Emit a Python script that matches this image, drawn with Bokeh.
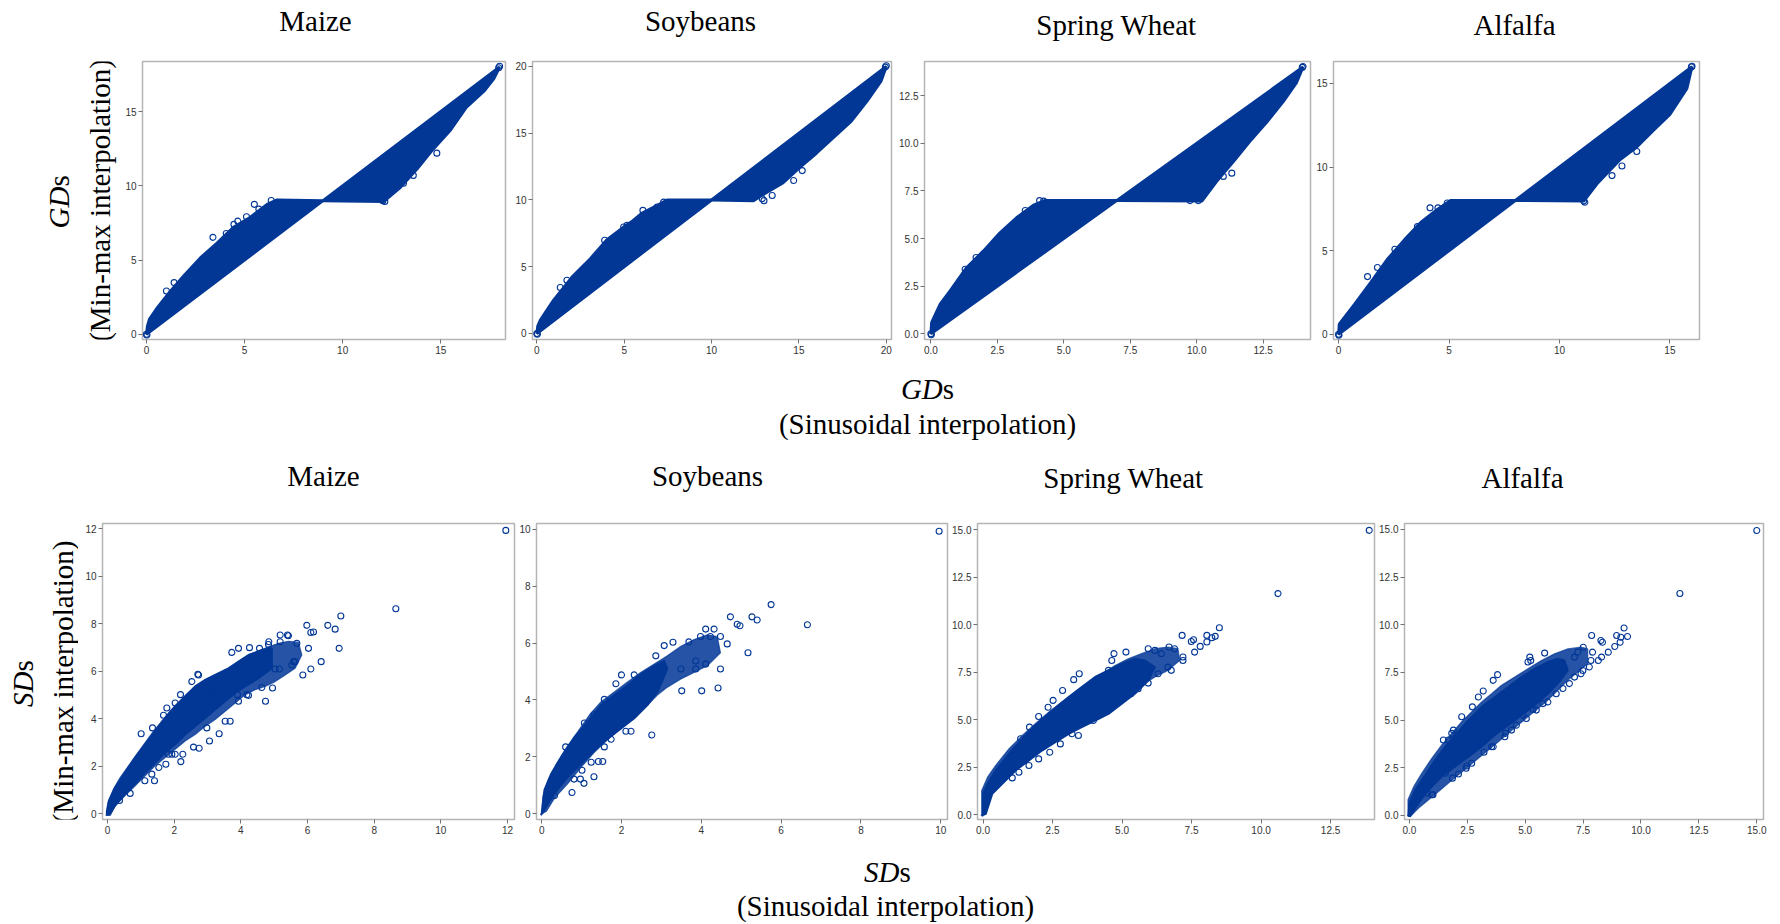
import math
from bokeh.plotting import figure
from bokeh.layouts import column, row
from bokeh.models import Range1d, FixedTicker, PrintfTickFormatter
from bokeh.embed import file_html
from bokeh.resources import INLINE
from bokeh.core.properties import value

BLUE = "#023796"
SERIF = "Liberation Serif"

crops = ["Maize", "Soybeans", "Spring Wheat", "Alfalfa"]

# ---------------- GDs (top row): dense bands (edge traces) + sparse edge points ----------------
gd_maize_upper_x = [0, 0.05, 0.15, 0.56, 1.07, 1.92, 2.76, 3.6, 4.46, 5.3, 6.15, 6.66, 9.0]
gd_maize_upper_y = [0, 0.55, 1.0, 1.79, 2.66, 3.96, 5.16, 6.14, 7.23, 7.88, 8.75, 9.05, 9.0]
gd_maize_lower_x = [9.0, 12.1, 12.9, 13.8, 14.6, 15.5, 16.3, 17.2, 17.7, 18.0]
gd_maize_lower_y = [9.0, 8.95, 9.84, 11.15, 12.45, 13.76, 15.28, 16.37, 17.2, 18.0]
gd_maize_pts_x = [0, 0.03, 1.02, 1.41, 3.39, 4.07, 4.46, 4.66, 5.1, 5.5, 5.73, 6.36, 12.05, 12.15, 13.1, 13.6, 14.8, 17.95, 18.0]
gd_maize_pts_y = [0, -0.05, 2.92, 3.48, 6.53, 6.79, 7.4, 7.62, 7.92, 8.75, 8.43, 9.01, 9.0, 8.95, 10.17, 10.7, 12.2, 17.95, 18.05]

gd_soy_upper_x = [0, 0.05, 0.2, 0.96, 2.0, 3.06, 4.0, 5.0, 5.5, 6.0, 6.9, 7.45, 10.0]
gd_soy_upper_y = [0, 0.55, 1.0, 2.5, 4.2, 5.6, 7.0, 8.0, 8.45, 9.0, 9.6, 10.0, 10.0]
gd_soy_lower_x = [10.0, 12.4, 13.2, 14.1, 15.1, 16.0, 17.0, 18.0, 18.9, 19.7, 20.0]
gd_soy_lower_y = [10.0, 9.95, 10.6, 11.3, 12.5, 13.5, 14.7, 15.9, 17.4, 18.9, 20.0]
gd_soy_pts_x = [0, 0.03, 1.34, 1.72, 3.88, 4.97, 5.16, 6.07, 6.4, 6.88, 7.26, 12.9, 13.0, 13.47, 14.7, 15.19, 19.95, 20.0]
gd_soy_pts_y = [0, -0.05, 3.44, 3.99, 6.98, 7.97, 8.1, 9.22, 8.97, 9.47, 9.84, 10.1, 9.95, 10.34, 11.46, 12.2, 19.95, 20.05]

gd_sw_upper_x = [0, 0.03, 0.35, 0.73, 1.35, 1.98, 2.6, 3.23, 3.86, 4.3, 7.0]
gd_sw_upper_y = [0, 0.6, 1.56, 2.26, 3.48, 4.35, 5.3, 6.1, 6.75, 7.0, 7.0]
gd_sw_lower_x = [7.0, 10.2, 10.75, 11.38, 12.0, 12.63, 13.26, 13.76, 14.0]
gd_sw_lower_y = [7.0, 6.97, 8.0, 9.04, 10.1, 11.1, 12.2, 13.2, 14.0]
gd_sw_pts_x = [0, 0.02, 1.29, 1.7, 2.58, 2.88, 3.55, 4.09, 4.24, 9.75, 10.06, 10.38, 11.0, 11.32, 13.97, 14.0]
gd_sw_pts_y = [0, -0.05, 3.39, 4.0, 5.04, 5.39, 6.47, 6.99, 6.96, 6.99, 6.99, 7.57, 8.26, 8.43, 13.98, 14.03]

gd_alf_upper_x = [0, 0.03, 0.71, 1.46, 2.2, 2.97, 3.72, 4.47, 5.07, 8.0]
gd_alf_upper_y = [0, 0.6, 1.77, 3.1, 4.47, 5.63, 6.69, 7.46, 8.0, 8.0]
gd_alf_lower_x = [8.0, 11.1, 11.7, 12.75, 13.5, 14.26, 15.0, 15.77, 16.0]
gd_alf_lower_y = [8.0, 7.97, 9.0, 10.45, 11.2, 12.2, 13.15, 14.7, 16.0]
gd_alf_pts_x = [0, 0.02, 1.31, 1.76, 2.55, 3.57, 4.14, 4.5, 4.92, 11.1, 11.15, 12.38, 12.83, 13.5, 15.97, 16.0]
gd_alf_pts_y = [0, -0.05, 3.45, 3.99, 5.09, 6.44, 7.56, 7.56, 7.85, 7.98, 7.9, 9.49, 10.06, 10.93, 15.98, 16.03]

# ---------------- SDs (bottom row): outer (speckled) envelope, solid core, scattered points ----------------
sd_maize_env_x = [0, 0.03, 0.18, 0.38, 0.63, 0.88, 1.13, 1.38, 1.63, 1.88, 2.13, 2.43, 2.73, 3.03, 3.33, 3.63, 3.93, 4.23,
                  4.53, 4.83, 5.13, 5.43, 5.73, 5.83, 5.63, 5.33, 5.03, 4.73, 4.43, 4.13, 3.83, 3.53, 3.23, 2.93, 2.63,
                  2.33, 2.03, 1.73, 1.43, 1.13, 0.83, 0.53, 0.23, 0.08, -0.05]
sd_maize_env_y = [0, 0.56, 1.04, 1.53, 2.02, 2.51, 3.0, 3.48, 3.9, 4.32, 4.67, 5.09, 5.44, 5.71, 5.92, 6.13, 6.41, 6.69,
                  6.86, 7.04, 7.18, 7.27, 7.22, 6.69, 6.13, 5.85, 5.57, 5.37, 5.23, 5.02, 4.67, 4.32, 3.97, 3.69, 3.34,
                  3.07, 2.72, 2.37, 2.02, 1.6, 1.18, 0.77, 0.35, -0.07, -0.07]
sd_maize_core_x = [-0.02, 0.03, 0.23, 0.53, 0.83, 1.13, 1.43, 1.73, 2.03, 2.33, 2.63, 2.93, 3.23, 3.63, 3.93, 4.23, 4.63, 4.93,
                   4.93, 4.53, 4.13, 3.83, 3.53, 3.23, 2.93, 2.63, 2.33, 2.03, 1.73, 1.43, 1.13, 0.83, 0.53, 0.23, 0.08, -0.02]
sd_maize_core_y = [0.1, 0.49, 1.11, 1.74, 2.37, 2.93, 3.48, 4.04, 4.53, 4.95, 5.37, 5.64, 5.85, 6.13, 6.41, 6.69, 6.9, 6.97,
                   6.13, 5.71, 5.37, 5.09, 4.74, 4.39, 4.04, 3.69, 3.34, 2.93, 2.58, 2.16, 1.74, 1.25, 0.84, 0.35, 0.0, -0.04]
sd_maize_pts_x = [11.95, 8.65, 7.0, 5.98, 6.61, 6.83, 6.1, 6.18, 6.95, 6.03, 6.41, 6.1, 5.86, 5.18, 5.4, 5.68, 5.58, 5.16,
                  4.95, 4.74, 4.84, 4.26, 3.93, 3.73, 4.38, 4.18, 3.9, 3.68, 3.53, 3.35, 3.06, 2.73, 2.53, 2.19, 2.98, 2.58,
                  2.75, 2.26, 2.2, 1.54, 1.41, 1.12, 1.33, 0.68, 0.36, 1.01, 1.35, 1.68, 2.03, 1.78, 1.83, 1.93, 5.43, 5.63,
                  5.53, 5.03, 4.63, 4.23, 3.93, 2.03, 1.75, 3.13, 3.29, 4.56, 4.83, 5.18, 2.71]
sd_maize_pts_y = [11.94, 8.64, 8.33, 7.94, 7.94, 7.78, 7.64, 7.66, 6.97, 6.97, 6.41, 6.1, 5.85, 7.53, 7.53, 7.18, 6.41, 6.1,
                  5.3, 4.74, 7.25, 7.0, 6.97, 6.8, 5.85, 5.02, 5.02, 3.9, 3.9, 3.37, 3.07, 5.85, 5.57, 5.02, 3.62, 2.81,
                  2.76, 2.51, 2.2, 1.95, 1.39, 1.39, 1.67, 0.86, 0.56, 3.37, 3.62, 4.15, 4.67, 4.46, 2.51, 2.51, 7.5, 6.41,
                  6.27, 6.1, 5.32, 4.99, 4.74, 2.51, 2.09, 5.16, 4.95, 6.97, 7.13, 7.25, 5.88]

sd_soy_env_x = [0, 0.03, 0.16, 0.37, 0.62, 0.91, 1.2, 1.49, 1.82, 2.15, 2.49, 2.82, 3.15, 3.49, 3.82, 4.15, 4.4, 4.48, 4.15,
                3.82, 3.49, 3.15, 2.9, 2.65, 2.32, 1.99, 1.66, 1.32, 0.99, 0.66, 0.32, 0.12, -0.02]
sd_soy_env_y = [0, 0.61, 1.18, 1.76, 2.33, 2.9, 3.48, 3.94, 4.28, 4.63, 4.97, 5.26, 5.55, 5.89, 6.12, 6.29, 6.23, 5.66, 5.2,
                4.97, 4.74, 4.45, 4.17, 3.82, 3.42, 3.02, 2.62, 2.16, 1.64, 1.07, 0.55, 0.09, -0.02]
sd_soy_core_x = [0, 0.07, 0.24, 0.49, 0.82, 1.16, 1.49, 1.82, 2.15, 2.49, 2.82, 3.07, 3.15, 2.9, 2.65, 2.32, 1.9, 1.49, 1.07,
                 0.66, 0.32, 0.07, -0.02]
sd_soy_core_y = [0, 0.84, 1.41, 1.99, 2.68, 3.25, 3.82, 4.17, 4.51, 4.91, 5.2, 5.37, 5.09, 4.28, 3.82, 3.36, 2.9, 2.45, 1.87,
                 1.3, 0.72, 0.15, -0.05]
sd_soy_pts_x = [9.96, 6.66, 5.75, 5.4, 5.27, 4.73, 4.9, 4.97, 5.17, 4.65, 4.48, 4.32, 4.11, 4.48, 4.42, 4.01, 4.11, 3.86, 3.69,
                3.98, 4.23, 3.51, 3.29, 3.07, 2.76, 2.86, 2.0, 2.32, 1.86, 1.57, 1.31, 1.07, 0.87, 0.6, 2.11, 2.24, 1.74,
                1.57, 1.53, 1.42, 1.24, 1.01, 0.81, 0.97, 1.06, 1.31, 0.76, 0.32, 3.49, 3.86]
sd_soy_pts_y = [9.93, 6.64, 7.35, 6.81, 6.92, 6.92, 6.66, 6.61, 5.66, 5.97, 6.23, 6.49, 6.49, 5.09, 4.42, 4.32, 5.26, 5.09, 6.04,
                6.23, 6.23, 4.32, 6.03, 5.91, 2.77, 5.55, 4.88, 4.88, 4.57, 4.02, 3.48, 3.19, 2.62, 2.35, 2.9, 2.9, 2.62,
                2.35, 1.84, 1.84, 1.81, 1.53, 1.22, 1.22, 1.07, 1.3, 0.75, 0.64, 5.09, 5.37]

sd_sw_env_x = [-0.05, -0.05, 0.16, 0.45, 0.93, 1.41, 1.88, 2.36, 2.84, 3.32, 3.79, 4.27, 4.75, 5.22, 5.7, 6.18, 6.65, 7.01,
               7.07, 6.65, 6.18, 5.7, 5.22, 4.75, 4.27, 3.79, 3.32, 2.84, 2.36, 1.88, 1.41, 0.93, 0.57, 0.27, 0.1, -0.08]
sd_sw_env_y = [0, 1.26, 1.97, 2.58, 3.46, 4.16, 4.78, 5.39, 5.92, 6.45, 6.97, 7.41, 7.85, 8.2, 8.47, 8.73, 8.82, 8.73,
               8.11, 7.59, 7.24, 6.8, 6.27, 5.83, 5.39, 5.04, 4.69, 4.25, 3.81, 3.37, 2.85, 2.23, 1.79, 1.09, 0.04, -0.05]
sd_sw_core_x = [0, 0, 0.16, 0.45, 0.93, 1.41, 1.88, 2.48, 3.08, 3.55, 4.03, 4.51, 5.0, 5.46, 5.82, 6.18, 5.94, 5.46, 4.99, 4.51,
                4.03, 3.55, 3.08, 2.6, 2.12, 1.65, 1.17, 0.69, 0.33, 0.1, -0.05]
sd_sw_core_y = [-0.05, 1.09, 1.62, 2.32, 3.2, 3.99, 4.69, 5.48, 6.18, 6.71, 7.24, 7.59, 7.94, 8.2, 8.11, 7.76, 7.06, 6.36, 5.83,
                5.3, 4.95, 4.6, 4.25, 3.81, 3.37, 2.85, 2.32, 1.62, 1.09, 0.04, -0.05]
sd_sw_pts_x = [13.89, 10.61, 8.5, 7.16, 7.49, 7.57, 8.05, 8.35, 8.23, 8.05, 7.81, 7.61, 7.19, 7.19, 6.89, 6.69, 6.77, 6.65,
               6.42, 6.18, 5.94, 6.3, 5.94, 5.58, 5.32, 5.14, 4.71, 4.63, 4.51, 3.46, 3.26, 2.86, 2.52, 2.34, 2.0, 1.67,
               1.35, 2.78, 2.4, 2.0, 1.65, 1.05, 1.29, 3.97, 3.43, 3.2, 4.72, 4.99]
sd_sw_pts_y = [14.96, 11.63, 9.83, 9.43, 9.11, 9.2, 9.43, 9.38, 9.31, 9.08, 8.85, 8.55, 8.29, 8.11, 8.73, 8.82, 7.59, 7.76,
               8.47, 8.64, 8.73, 7.41, 6.92, 6.62, 6.36, 8.55, 8.47, 8.11, 7.59, 7.41, 7.1, 6.53, 6.01, 5.65, 5.16, 4.6,
               3.99, 3.72, 3.28, 2.93, 2.58, 1.93, 2.23, 4.95, 4.16, 4.25, 5.92, 6.18]

sd_alf_env_x = [-0.06, -0.06, 0.19, 0.54, 0.97, 1.4, 1.83, 2.26, 2.69, 3.12, 3.55, 3.98, 4.55, 5.12, 5.7, 6.27, 6.84, 7.41,
                7.7, 7.7, 7.27, 6.84, 6.41, 5.98, 5.55, 5.12, 4.69, 4.27, 3.84, 3.41, 2.98, 2.55, 2.12, 1.69, 1.26, 0.83,
                0.4, 0.11]
sd_alf_env_y = [-0.05, 0.82, 1.51, 2.21, 2.99, 3.69, 4.3, 4.91, 5.43, 5.95, 6.38, 6.82, 7.25, 7.69, 8.12, 8.47, 8.73, 8.82,
                8.73, 7.95, 7.52, 7.08, 6.56, 6.04, 5.6, 5.17, 4.73, 4.3, 3.86, 3.43, 2.99, 2.56, 2.12, 1.69, 1.25, 0.82,
                0.38, 0.03]
sd_alf_core_x = [-0.03, 0, 0.26, 0.69, 1.12, 1.55, 1.98, 2.55, 3.12, 3.69, 4.27, 4.84, 5.41, 5.98, 6.41, 6.7, 6.84,
                 6.41, 5.98, 5.41, 4.84, 4.27, 3.69, 3.12, 2.55, 1.98, 1.4, 0.97, 0.54, 0.26, 0.04, -0.05]
sd_alf_core_y = [0.1, 0.64, 1.34, 2.12, 2.91, 3.6, 4.21, 4.99, 5.69, 6.21, 6.73, 7.25, 7.69, 8.04, 8.21, 8.12, 7.6,
                 6.91, 6.38, 5.78, 5.25, 4.73, 4.21, 3.6, 3.08, 2.56, 2.04, 1.51, 0.9, 0.38, -0.05, -0.03]
sd_alf_pts_x = [15.0, 11.68, 9.27, 7.87, 8.95, 9.13, 9.42, 8.27, 8.34, 9.1, 8.87, 8.59, 8.3, 8.16, 7.91, 7.84, 7.77, 7.51,
                7.27, 7.13, 7.41, 6.91, 6.63, 6.34, 5.84, 5.2, 5.12, 3.81, 3.62, 3.19, 2.98, 2.72, 2.26, 1.83, 1.69, 3.22,
                3.62, 2.69, 2.45, 2.12, 1.86, 1.02, 0.76, 4.15, 4.41, 4.91, 5.34, 5.77, 5.24, 7.49, 7.13, 5.98, 5.48,
                5.05, 4.62, 4.12, 3.55, 2.48, 1.55, 0.97, 1.47, 1.9]
sd_alf_pts_y = [14.94, 11.64, 9.83, 9.43, 9.43, 9.34, 9.38, 9.17, 9.08, 9.08, 8.86, 8.56, 8.3, 8.12, 8.56, 8.12, 7.78, 8.82,
                8.56, 8.3, 7.43, 6.91, 6.65, 6.38, 8.51, 8.3, 8.04, 7.38, 7.08, 6.52, 6.21, 5.69, 5.17, 4.3, 3.95, 3.31,
                3.6, 2.73, 2.47, 2.17, 1.95, 1.08, 1.17, 4.3, 4.47, 5.25, 5.55, 5.86, 8.12, 7.6, 7.25, 5.95, 5.52,
                5.08, 4.73, 4.12, 3.6, 2.59, 2.21, 1.08, 3.95, 4.47]

# ticks
gd_ticks = [[0, 5, 10, 15], [0, 5, 10, 15, 20], [0, 2.5, 5, 7.5, 10, 12.5], [0, 5, 10, 15]]
sd_xticks = [[0, 2, 4, 6, 8, 10, 12], [0, 2, 4, 6, 8, 10], [0, 2.5, 5, 7.5, 10, 12.5], [0, 2.5, 5, 7.5, 10, 12.5, 15]]
sd_yticks = [[0, 2, 4, 6, 8, 10, 12], [0, 2, 4, 6, 8, 10], [0, 2.5, 5, 7.5, 10, 12.5, 15], [0, 2.5, 5, 7.5, 10, 12.5, 15]]


def panel(w, h, bl, br, bt, bb, xr, yr, xt, yt, xfmt, yfmt):
    p = figure(width=w, height=h, x_range=Range1d(*xr), y_range=Range1d(*yr),
               output_backend="svg", toolbar_location=None, tools="",
               min_border_left=bl, min_border_right=br, min_border_top=bt, min_border_bottom=bb)
    p.grid.visible = False
    p.outline_line_color = "#b5b5b5"
    p.outline_line_width = 1.5
    p.background_fill_color = "white"
    p.border_fill_color = "white"
    for ax, ticks, fmt in ((p.xaxis[0], xt, xfmt), (p.yaxis[0], yt, yfmt)):
        ax.ticker = FixedTicker(ticks=ticks)
        ax.formatter = PrintfTickFormatter(format=fmt)
        ax.axis_line_color = None
        ax.major_tick_line_color = "#707070"
        ax.major_tick_out = 4
        ax.major_tick_in = 0
        ax.minor_tick_line_color = None
        ax.major_label_text_font = "Liberation Sans"
        ax.major_label_text_font_size = "10px"
        ax.major_label_text_color = "#333333"
        ax.major_label_standoff = 2
    return p


def strip(w, h):
    p = figure(width=w, height=h, x_range=Range1d(0, w), y_range=Range1d(h, 0),
               output_backend="svg", toolbar_location=None, tools="",
               x_axis_type=None, y_axis_type=None,
               min_border_left=0, min_border_right=0, min_border_top=0, min_border_bottom=0)
    p.outline_line_color = None
    p.grid.visible = False
    p.background_fill_color = "white"
    p.border_fill_color = "white"
    return p


def txt(p, x, y, s, align="center", style="normal", angle=0.0):
    p.text(x=[x], y=[y], text=[s], text_font=value(SERIF), text_font_size="29px",
           text_align=align, text_baseline="middle", text_color="black",
           text_font_style=style, angle=angle)


# ---------------- layout geometry ----------------
H1 = 324
top_specs = [  # width, bl, br, bt, bb, xr, yr, fmt
    (389, 24, 2, 8, 29, (-0.2, 18.3), (-0.35, 18.37), "%d"),
    (386, 25, 2, 13, 33, (-0.25, 20.3), (-0.45, 20.37), "%d"),
    (419, 31, 2, 11, 33, (-0.24, 14.28), (-0.3, 14.29), "%.1f"),
    (468, 21, 81, 7, 29, (-0.23, 16.34), (-0.31, 16.31), "%d"),
]
gd_bands = [
    (gd_maize_upper_x, gd_maize_upper_y, gd_maize_lower_x, gd_maize_lower_y, gd_maize_pts_x, gd_maize_pts_y),
    (gd_soy_upper_x, gd_soy_upper_y, gd_soy_lower_x, gd_soy_lower_y, gd_soy_pts_x, gd_soy_pts_y),
    (gd_sw_upper_x, gd_sw_upper_y, gd_sw_lower_x, gd_sw_lower_y, gd_sw_pts_x, gd_sw_pts_y),
    (gd_alf_upper_x, gd_alf_upper_y, gd_alf_lower_x, gd_alf_lower_y, gd_alf_pts_x, gd_alf_pts_y),
]

top_panels = []
for spec, ticks, band in zip(top_specs, gd_ticks, gd_bands):
    w, bl, br, bt, bb, xr, yr, fmt = spec
    p = panel(w, H1, bl, br, bt, bb, xr, yr, ticks, ticks, fmt, fmt)
    ux, uy, lx, ly, px, py = band
    p.patches(xs=[ux, lx], ys=[uy, ly], fill_color=BLUE, line_color=BLUE, line_width=3)
    p.scatter(px, py, marker="circle", size=6, fill_color=None, line_color=BLUE, line_width=1.1)
    top_panels.append(p)

left1 = strip(118, H1)
txt(left1, 58, 145.7, "GD", align="right", style="italic", angle=math.pi / 2)
txt(left1, 58, 145.7, "s", align="left", angle=math.pi / 2)
txt(left1, 99, 162, "(Min-max interpolation)", angle=math.pi / 2)

H2 = 340
bottom_specs = [
    (438, 24, 2, 16, 26, (-0.15, 12.21), (-0.24, 12.23), "%d", "%d"),
    (433, 19, 2, 16, 22, (-0.13, 10.17), (-0.2, 10.2), "%d", "%d"),
    (427, 26, 2, 18, 26, (-0.2, 14.08), (-0.26, 15.32), "%.1f", "%.1f"),
    (404, 26, 17, 17, 25, (-0.21, 15.29), (-0.22, 15.31), "%.1f", "%.1f"),
]
sd_sets = [
    (sd_maize_env_x, sd_maize_env_y, sd_maize_core_x, sd_maize_core_y, sd_maize_pts_x, sd_maize_pts_y),
    (sd_soy_env_x, sd_soy_env_y, sd_soy_core_x, sd_soy_core_y, sd_soy_pts_x, sd_soy_pts_y),
    (sd_sw_env_x, sd_sw_env_y, sd_sw_core_x, sd_sw_core_y, sd_sw_pts_x, sd_sw_pts_y),
    (sd_alf_env_x, sd_alf_env_y, sd_alf_core_x, sd_alf_core_y, sd_alf_pts_x, sd_alf_pts_y),
]
bottom_panels = []
for spec, xt, yt, s in zip(bottom_specs, sd_xticks, sd_yticks, sd_sets):
    w, bl, br, bt, bb, xr, yr, xf, yf = spec
    p = panel(w, H2, bl, br, bt, bb, xr, yr, xt, yt, xf, yf)
    ex, ey, cx, cy, px, py = s
    p.patch(ex, ey, fill_color=BLUE, fill_alpha=0.86, line_color=BLUE, line_alpha=0.7, line_width=1.2)
    p.patch(cx, cy, fill_color=BLUE, line_color=BLUE, line_width=2)
    p.scatter(px, py, marker="circle", size=6, fill_color=None, line_color=BLUE, line_width=1.1)
    bottom_panels.append(p)

left2 = strip(78, H2)
txt(left2, 22, 170, "SD", align="right", style="italic", angle=math.pi / 2)
txt(left2, 22, 170, "s", align="left", angle=math.pi / 2)
txt(left2, 62, 182, "(Min-max interpolation)", angle=math.pi / 2)

# title strip (top)
sA = strip(1780, 48)
for c, x, y in zip(crops, [315, 700, 1116, 1514], [20.7, 20.7, 24.5, 24.5]):
    txt(sA, x, y, c)

# middle strip: GDs x-label + bottom titles
sB = strip(1780, 133)
txt(sB, 942.3, 16, "GD", align="right", style="italic")
txt(sB, 942.3, 16, "s", align="left")
txt(sB, 927, 51, "(Sinusoidal interpolation)")
for c, x, y in zip(crops, [323, 707, 1123, 1522], [103, 103, 105.5, 105.5]):
    txt(sB, x, y, c)

# bottom strip: SDs x-label
sC = strip(1780, 79)
txt(sC, 899, 26, "SD", align="right", style="italic")
txt(sC, 899, 26, "s", align="left")
txt(sC, 885, 60, "(Sinusoidal interpolation)")

layout = column(sA, row(left1, *top_panels), sB, row(left2, *bottom_panels), sC)

with open("out.html", "w") as f:
    f.write(file_html(layout, INLINE))
